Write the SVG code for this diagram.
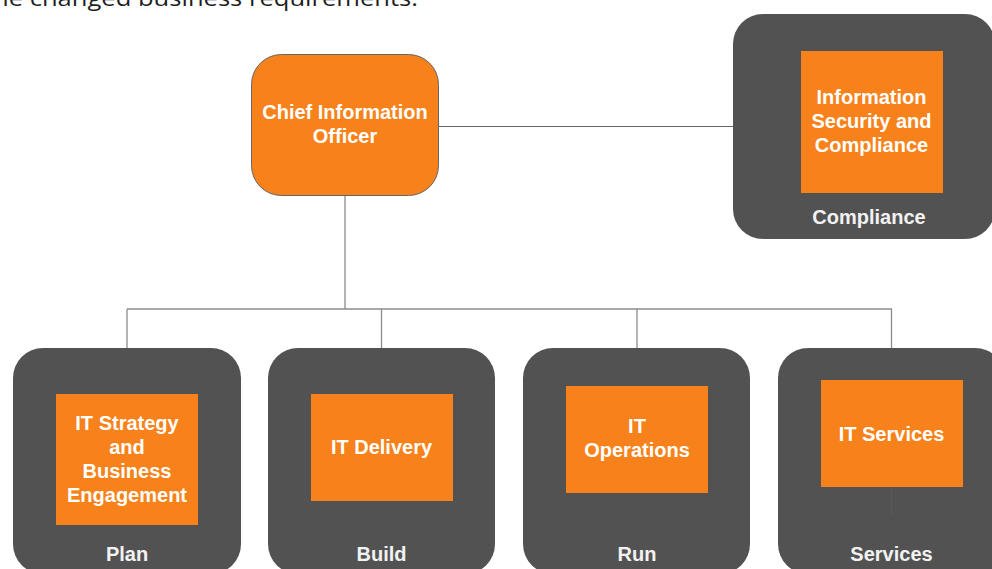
<svg xmlns="http://www.w3.org/2000/svg" width="992" height="569" viewBox="0 0 992 569">
  <style>
    .unit { fill: #525252; }
    .role { fill: #F7821B; }
    .cio { fill: #F7821B; stroke: #666666; stroke-width: 1; }
    .lbl { font-family: "Liberation Sans", Arial, sans-serif; font-weight: bold; font-size: 20px; fill: #FFFFFF; text-anchor: middle; }
    .unitlbl { fill: #F2F2F2; }
    .conn { stroke: #8C8C8C; stroke-width: 1.3; fill: none; }
    .intro { font-family: "Open Sans", "Liberation Sans", sans-serif; font-size: 21px; fill: #1F1F1F; }
  </style>

  <!-- running text above the chart -->
  <text class="intro" x="-7" y="6" textLength="425" lengthAdjust="spacingAndGlyphs">he changed business requirements.</text>

  <!-- reporting lines -->
  <g id="connectors">
    <line class="conn" x1="439" y1="126.5" x2="733" y2="126.5" style="stroke:#666666;stroke-width:1"/>
    <line class="conn" x1="345" y1="196" x2="345" y2="309"/>
    <line class="conn" x1="127" y1="309" x2="892" y2="309"/>
    <line class="conn" x1="127" y1="309" x2="127" y2="348"/>
    <line class="conn" x1="381.5" y1="309" x2="381.5" y2="348"/>
    <line class="conn" x1="637" y1="309" x2="637" y2="348"/>
    <line class="conn" x1="891.5" y1="309" x2="891.5" y2="348"/>
  </g>

  <g id="cio">
    <rect class="cio" x="251.5" y="54.5" width="187" height="141" rx="30"/>
    <text class="lbl" x="345" y="118.5">Chief Information</text>
    <text class="lbl" x="345" y="142.5">Officer</text>
  </g>

  <g id="compliance">
    <rect class="unit" x="733" y="14" width="262" height="225" rx="30"/>
    <rect class="role" x="801" y="51" width="142" height="142"/>
    <text class="lbl" x="871.5" y="104">Information</text>
    <text class="lbl" x="871.5" y="128">Security and</text>
    <text class="lbl" x="871.5" y="152">Compliance</text>
    <text class="lbl unitlbl" x="869" y="224">Compliance</text>
  </g>

  <g id="plan">
    <rect class="unit" x="13" y="348" width="228" height="226" rx="30"/>
    <rect class="role" x="56" y="394" width="142" height="131"/>
    <text class="lbl" x="127" y="429.5">IT Strategy</text>
    <text class="lbl" x="127" y="453.5">and</text>
    <text class="lbl" x="127" y="477.5">Business</text>
    <text class="lbl" x="127" y="501.5">Engagement</text>
    <text class="lbl unitlbl" x="127" y="561">Plan</text>
  </g>

  <g id="build">
    <rect class="unit" x="268" y="348" width="227" height="226" rx="30"/>
    <rect class="role" x="311" y="394" width="142" height="107"/>
    <text class="lbl" x="381.5" y="453.5">IT Delivery</text>
    <text class="lbl unitlbl" x="381.5" y="561">Build</text>
  </g>

  <g id="run">
    <rect class="unit" x="523" y="348" width="227" height="226" rx="30"/>
    <rect class="role" x="566" y="386" width="142" height="107"/>
    <text class="lbl" x="637" y="433">IT</text>
    <text class="lbl" x="637" y="457">Operations</text>
    <text class="lbl unitlbl" x="637" y="561">Run</text>
  </g>

  <g id="services">
    <rect class="unit" x="778" y="348" width="227" height="226" rx="30"/>
    <line x1="891.5" y1="487" x2="891.5" y2="515" stroke="#5A5A5A" stroke-width="1"/>
    <rect class="role" x="821" y="380" width="142" height="107"/>
    <text class="lbl" x="891.5" y="440.5">IT Services</text>
    <text class="lbl unitlbl" x="891.5" y="561">Services</text>
  </g>
</svg>
